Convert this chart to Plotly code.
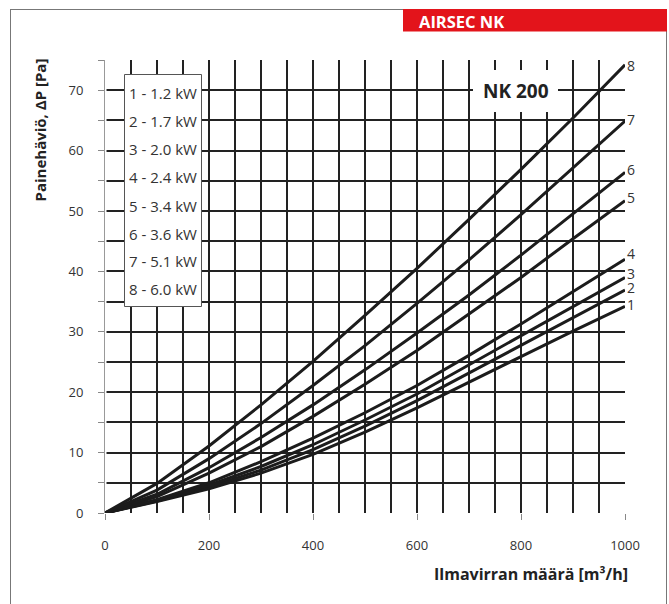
import plotly.graph_objects as go

# Air flow (m3/h)
flow = [0, 100, 200, 300, 400, 500, 600, 700, 800, 900, 1000]

# Pressure drop (Pa) per heater power curve
dp_1 = [0, 1.9, 4.0, 6.6, 9.7, 13.4, 17.4, 21.7, 25.9, 30.1, 34.2]
dp_2 = [0, 2.0, 4.3, 7.1, 10.5, 14.4, 18.6, 23.2, 27.8, 32.4, 36.9]
dp_3 = [0, 2.1, 4.6, 7.7, 11.3, 15.4, 19.7, 24.5, 29.3, 34.1, 39.0]
dp_4 = [0, 2.2, 5.0, 8.5, 12.4, 16.6, 21.1, 26.1, 31.3, 36.6, 42.0]
dp_5 = [0, 2.7, 6.6, 11.0, 16.0, 21.3, 26.9, 32.9, 39.0, 45.4, 51.7]
dp_6 = [0, 3.1, 7.5, 12.5, 17.9, 23.7, 29.8, 36.1, 42.7, 49.5, 56.4]
dp_7 = [0, 3.8, 9.0, 14.8, 21.1, 27.7, 34.7, 41.9, 49.4, 57.1, 64.9]
dp_8 = [0, 4.9, 11.1, 17.9, 25.1, 32.7, 40.5, 48.6, 56.9, 65.4, 74.2]
series = [dp_1, dp_2, dp_3, dp_4, dp_5, dp_6, dp_7, dp_8]

curve_ids = ["1", "2", "3", "4", "5", "6", "7", "8"]
label_y = [34.6, 37.3, 39.7, 42.9, 52.3, 56.9, 65.1, 74.1]
legend_lines = ["1 - 1.2 kW", "2 - 1.7 kW", "3 - 2.0 kW", "4 - 2.4 kW",
                "5 - 3.4 kW", "6 - 3.6 kW", "7 - 5.1 kW", "8 - 6.0 kW"]

x_ticks = [0, 200, 400, 600, 800, 1000]
y_ticks = [0, 10, 20, 30, 40, 50, 60, 70]

FONT = "Open Sans"
L, R, T, B = 105, 44, 60, 91
W, H = 669, 604
PW, PH = W - L - R, H - T - B


def px(xp):
    return (xp - L) / PW


def py(yp):
    return (H - B - yp) / PH


fig = go.Figure()
for s, cid in zip(series, curve_ids):
    fig.add_trace(go.Scatter(x=flow, y=s, mode="lines", name=cid,
                             line=dict(color="#1c1c1c", width=3),
                             showlegend=False, hoverinfo="x+y"))

grid_c = "#222222"
fig.update_layout(
    width=W, height=H,
    margin=dict(l=L, r=R, t=T, b=B),
    paper_bgcolor="white", plot_bgcolor="white",
    font=dict(family=FONT, size=13, color="#333333"),
    xaxis=dict(range=[0, 1000], tickvals=x_ticks, ticks="outside", ticklen=6,
               tickcolor="#888888", tickwidth=1, showgrid=True,
               gridcolor=grid_c, gridwidth=2, zeroline=False,
               showline=False, ticklabelstandoff=14,
               minor=dict(dtick=50, showgrid=True, gridcolor=grid_c,
                          gridwidth=2, ticks=""),
               tickfont=dict(size=13, color="#333333")),
    yaxis=dict(range=[0, 75], tickvals=y_ticks, ticks="outside", ticklen=6,
               tickcolor="#888888", tickwidth=1, showgrid=True,
               gridcolor=grid_c, gridwidth=2, zeroline=False,
               showline=True, linecolor="#999999", linewidth=1,
               ticklabelstandoff=12,
               minor=dict(dtick=5, showgrid=True, gridcolor=grid_c,
                          gridwidth=2, ticks="outside", ticklen=6,
                          tickcolor="#888888"),
               tickfont=dict(size=13, color="#333333")),
)

shapes = []
# cover gridline at x=0 so the grey axis line shows
shapes.append(dict(type="line", xref="x", yref="y", x0=0, x1=0, y0=0, y1=75,
                   line=dict(color="white", width=3), layer="between"))
# frame
shapes.append(dict(type="line", xref="paper", yref="paper", x0=px(10), x1=px(403),
                   y0=py(9.5), y1=py(9.5), line=dict(color="#777777", width=1)))
shapes.append(dict(type="line", xref="paper", yref="paper", x0=px(10.5), x1=px(10.5),
                   y0=py(9.5), y1=py(604), line=dict(color="#777777", width=1)))
shapes.append(dict(type="line", xref="paper", yref="paper", x0=px(666.5), x1=px(666.5),
                   y0=py(31), y1=py(604), line=dict(color="#777777", width=1)))
shapes.append(dict(type="rect", xref="paper", yref="paper", x0=px(403), x1=px(667),
                   y0=py(9), y1=py(31.5), fillcolor="#e3141b", line=dict(width=0)))
# legend box
shapes.append(dict(type="rect", xref="paper", yref="paper", x0=px(124.5), x1=px(201.5),
                   y0=py(74.5), y1=py(306.5), fillcolor="white",
                   line=dict(color="#555555", width=1), layer="above"))
# NK 200 box
shapes.append(dict(type="rect", xref="paper", yref="paper", x0=px(473), x1=px(558),
                   y0=py(70), y1=py(112), fillcolor="white",
                   line=dict(width=0), layer="above"))
fig.update_layout(shapes=shapes)

ann = []
ann.append(dict(text="<b>AIRSEC NK</b>", xref="paper", yref="paper", x=px(417), y=py(21),
                xanchor="left", yanchor="middle", showarrow=False,
                font=dict(family=FONT, size=16.5, color="white")))
ann.append(dict(text="<b>NK 200</b>", xref="paper", yref="paper", x=px(516), y=py(91),
                xanchor="center", yanchor="middle", showarrow=False,
                font=dict(family=FONT, size=19, color="#222222")))
ann.append(dict(text="<b>Painehäviö, ΔP [Pa]</b>", xref="paper", yref="paper",
                x=px(39), y=py(57), xanchor="center", yanchor="top", textangle=-90,
                showarrow=False, font=dict(family=FONT, size=15, color="#222222")))
ann.append(dict(text="<b>Ilmavirran määrä [m³/h]</b>", xref="paper", yref="paper",
                x=px(630), y=py(574), xanchor="right", yanchor="middle",
                showarrow=False, font=dict(family=FONT, size=16, color="#222222")))
leg_y = [93, 121, 149, 177, 206, 234, 261, 289]
for t, yy in zip(legend_lines, leg_y):
    ann.append(dict(text=t, xref="paper", yref="paper", x=px(127), y=py(yy),
                    xanchor="left", yanchor="middle", showarrow=False,
                    font=dict(family=FONT, size=15, color="#333333")))
for cid, yy in zip(curve_ids, label_y):
    ann.append(dict(text=cid, xref="x", yref="y", x=1000, y=yy, xshift=1,
                    xanchor="left", yanchor="middle", showarrow=False,
                    borderpad=0,
                    font=dict(family=FONT, size=14, color="#333333")))
fig.update_layout(annotations=ann)

fig.write_html("out.html", config={"displayModeBar": False},
               post_script="document.body.style.margin='0';")
